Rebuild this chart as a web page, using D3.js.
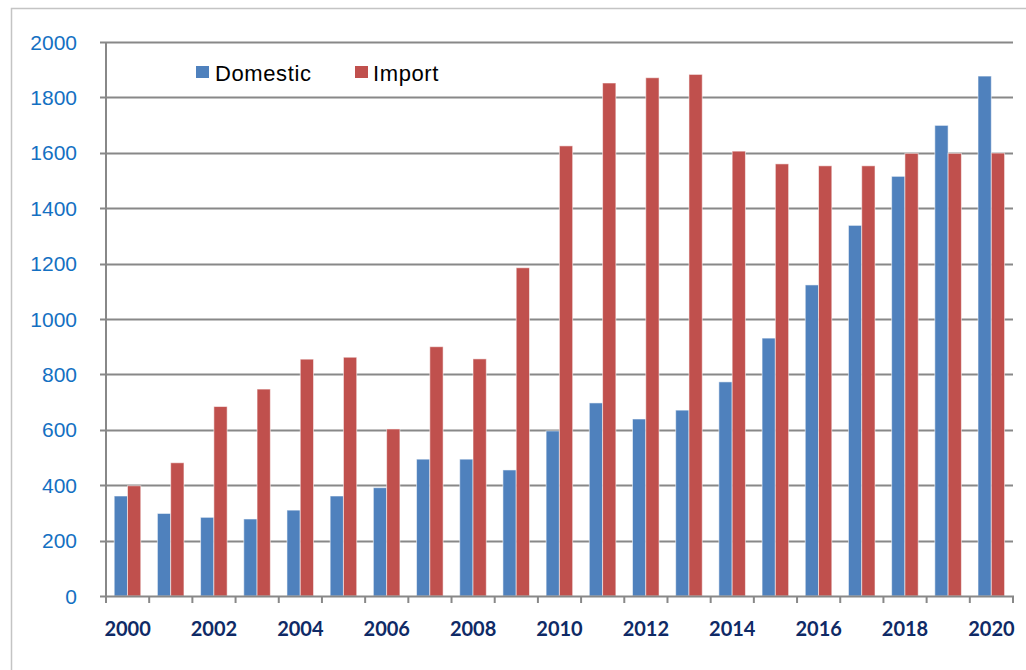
<!DOCTYPE html>
<html>
<head>
<meta charset="utf-8">
<script src="https://cdn.jsdelivr.net/npm/d3@7/dist/d3.min.js"></script>
<style>
  html, body { margin: 0; padding: 0; background: #ffffff; }
  svg { display: block; }
</style>
</head>
<body>
<svg id="chart" width="1026" height="670"></svg>
<script>
// Annual volumes, 2000–2020
const years = d3.range(2000, 2021);
const domestic = [361, 298, 284, 278, 310, 361, 391, 494, 494, 455, 596, 697, 639, 671, 773, 931, 1123, 1338, 1515, 1699, 1877];
const imports  = [398, 481, 684, 747, 855, 862, 603, 900, 856, 1185, 1625, 1852, 1871, 1883, 1606, 1560, 1553, 1553, 1598, 1598, 1599];
const seriesNames = ["Domestic", "Import"];
const seriesColors = ["#4F81BD", "#C0504D"];
const yTicks = [0, 200, 400, 600, 800, 1000, 1200, 1400, 1600, 1800, 2000];
const xLabelYears = years.filter(y => y % 2 === 0);

const svg = d3.select("#chart");
const W = 1026, H = 670;
const plot = { left: 106, right: 1013, top: 42, bottom: 596 };

svg.append("rect").attr("width", W).attr("height", H).attr("fill", "#ffffff");

// outer chart frame (runs off the right and bottom edges)
svg.append("rect")
  .attr("x", 11.5).attr("y", 8.5)
  .attr("width", W + 20).attr("height", H + 20)
  .attr("fill", "none")
  .attr("stroke", "#c4c4c4")
  .attr("stroke-width", 1.5);

const x = d3.scaleBand().domain(years).range([plot.left, plot.right]).paddingInner(0).paddingOuter(0);
const bw = x.bandwidth();
const xs = d3.scaleBand().domain(seriesNames).range([bw * 0.19, bw * 0.805]).padding(0);
const y = d3.scaleLinear().domain([0, 2000]).range([plot.bottom, plot.top]);

const gridColor = "#888888";

// horizontal gridlines with small left tick
svg.append("g")
  .selectAll("line")
  .data(yTicks.filter(v => v > 0))
  .join("line")
  .attr("x1", plot.left - 6).attr("x2", plot.right)
  .attr("y1", d => Math.round(y(d)) + 0.5).attr("y2", d => Math.round(y(d)) + 0.5)
  .attr("stroke", gridColor).attr("stroke-width", 2);

// bars
const rows = years.map((yr, i) => ({ year: yr, values: [domestic[i], imports[i]] }));
const groups = svg.append("g").selectAll("g")
  .data(rows).join("g")
  .attr("transform", d => `translate(${x(d.year)},0)`);

groups.selectAll("rect")
  .data(d => d.values.map((v, k) => ({ key: seriesNames[k], value: v, color: seriesColors[k] })))
  .join("rect")
  .attr("x", d => xs(d.key))
  .attr("width", xs.bandwidth())
  .attr("y", d => y(d.value))
  .attr("height", d => y(0) - y(d.value))
  .attr("fill", d => d.color)
  .attr("stroke", "rgba(255,255,255,0.55)")
  .attr("stroke-width", 1);

// y axis line
svg.append("line")
  .attr("x1", plot.left).attr("x2", plot.left)
  .attr("y1", plot.top).attr("y2", plot.bottom + 1)
  .attr("stroke", gridColor).attr("stroke-width", 2);

// x axis line with ticks at every category boundary
svg.append("line")
  .attr("x1", plot.left - 6).attr("x2", plot.right + 1)
  .attr("y1", plot.bottom + 0.5).attr("y2", plot.bottom + 0.5)
  .attr("stroke", gridColor).attr("stroke-width", 2);

const boundaries = years.map(yr => x(yr)).concat([plot.right]);
svg.append("g").selectAll("line")
  .data(boundaries).join("line")
  .attr("x1", d => d).attr("x2", d => d)
  .attr("y1", plot.bottom).attr("y2", plot.bottom + 7)
  .attr("stroke", gridColor).attr("stroke-width", 2);

// y tick labels
svg.append("g").selectAll("text")
  .data(yTicks).join("text")
  .attr("x", 77)
  .attr("y", d => y(d))
  .attr("dy", "0.36em")
  .attr("text-anchor", "end")
  .attr("font-family", "'Liberation Sans', Arial, sans-serif")
  .attr("font-size", 21)
  .attr("fill", "#1470c2")
  .text(d => d);

// x tick labels (every second year)
svg.append("g").selectAll("text")
  .data(xLabelYears).join("text")
  .attr("x", d => x(d) + bw / 2)
  .attr("y", 636)
  .attr("text-anchor", "middle")
  .attr("font-family", "Lato, 'Liberation Sans', sans-serif")
  .attr("font-weight", "bold")
  .attr("font-size", 20)
  .attr("fill", "#0f2a66")
  .text(d => d);

// legend
const legend = svg.append("g");
const legendItems = [
  { name: seriesNames[0], color: seriesColors[0], x: 196, gap: 19 },
  { name: seriesNames[1], color: seriesColors[1], x: 355, gap: 18 }
];
legendItems.forEach(it => {
  legend.append("rect")
    .attr("x", it.x).attr("y", 66)
    .attr("width", 13).attr("height", 12)
    .attr("fill", it.color);
  legend.append("text")
    .attr("x", it.x + it.gap).attr("y", 80.5)
    .attr("font-family", "'Liberation Sans', Arial, sans-serif")
    .attr("font-size", 22)
    .attr("letter-spacing", 0.6)
    .attr("fill", "#000000")
    .text(it.name);
});
</script>
</body>
</html>
